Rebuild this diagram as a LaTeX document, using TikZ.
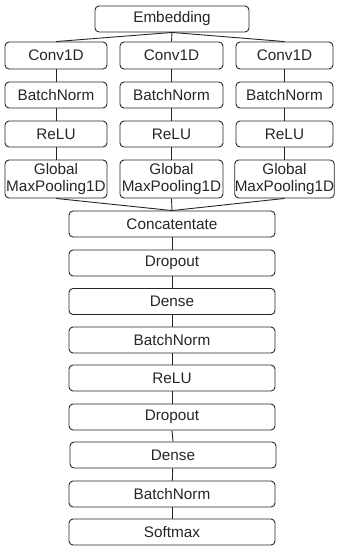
\documentclass[tikz,border=0pt]{standalone}
\usepackage{fontspec}
\setmainfont{Liberation Sans}
\begin{document}
\begin{tikzpicture}[x=1pt,y=-1pt,
  blk/.style={draw=black!85, line width=0.9pt, rounded corners=4pt, inner sep=0pt,
    align=center, font=\fontsize{15.3}{16.5}\selectfont, text=black!85},
  link/.style={draw=black!85, line width=0.9pt}]
\useasboundingbox (0,0) rectangle (338,546);
\node[blk, minimum width=154pt, minimum height=26pt] (emb) at (172,19) {Embedding};
% branches
\node[blk, minimum width=102pt, minimum height=27pt] (c1) at (56,55.5) {Conv1D};
\node[blk, minimum width=103pt, minimum height=27pt] (c2) at (171.5,55.5) {Conv1D};
\node[blk, minimum width=97pt, minimum height=27pt] (c3) at (284.5,55.5) {Conv1D};
\node[blk, minimum width=102pt, minimum height=26pt] (b1) at (56,95) {BatchNorm};
\node[blk, minimum width=103pt, minimum height=26pt] (b2) at (171.5,95) {BatchNorm};
\node[blk, minimum width=97pt, minimum height=26pt] (b3) at (284.5,95) {BatchNorm};
\node[blk, minimum width=102pt, minimum height=26pt] (r1) at (56,134) {ReLU};
\node[blk, minimum width=103pt, minimum height=26pt] (r2) at (171.5,134) {ReLU};
\node[blk, minimum width=97pt, minimum height=26pt] (r3) at (284.5,134) {ReLU};
\node[blk, minimum width=102pt, minimum height=38pt] (g1) at (56,179) {Global\\MaxPooling1D};
\node[blk, minimum width=103pt, minimum height=38pt] (g2) at (171.5,179) {Global\\MaxPooling1D};
\node[blk, minimum width=97pt, minimum height=38pt] (g3) at (284.5,179) {Global\\MaxPooling1D};
% main column
\node[blk, minimum width=206pt, minimum height=26pt] (cat) at (172,224) {Concatentate};
\node[blk, minimum width=206pt, minimum height=26pt] (do1) at (172,263) {Dropout};
\node[blk, minimum width=206pt, minimum height=26pt] (de1) at (172,301.5) {Dense};
\node[blk, minimum width=206pt, minimum height=26pt] (bn1) at (172,340) {BatchNorm};
\node[blk, minimum width=206pt, minimum height=26pt] (re1) at (172,378) {ReLU};
\node[blk, minimum width=206pt, minimum height=26pt] (do2) at (172,417) {Dropout};
\node[blk, minimum width=206pt, minimum height=26pt] (de2) at (173,455) {Dense};
\node[blk, minimum width=206pt, minimum height=26pt] (bn2) at (172,494) {BatchNorm};
\node[blk, minimum width=206pt, minimum height=26pt] (sm) at (172,532) {Softmax};
% connectors
\foreach \i in {1,2,3} {
  \draw[link] (emb.south) -- (c\i.north);
  \draw[link] (c\i) -- (b\i);
  \draw[link] (b\i) -- (r\i);
  \draw[link] (r\i) -- (g\i);
  \draw[link] (g\i.south) -- (cat.north);
}
\draw[link] (cat) -- (do1);
\draw[link] (do1) -- (de1);
\draw[link] (de1) -- (bn1);
\draw[link] (bn1) -- (re1);
\draw[link] (re1) -- (do2);
\draw[link] (do2.south) -- (de2.north);
\draw[link] (de2) -- (bn2);
\draw[link] (bn2) -- (sm);
\end{tikzpicture}
\end{document}
